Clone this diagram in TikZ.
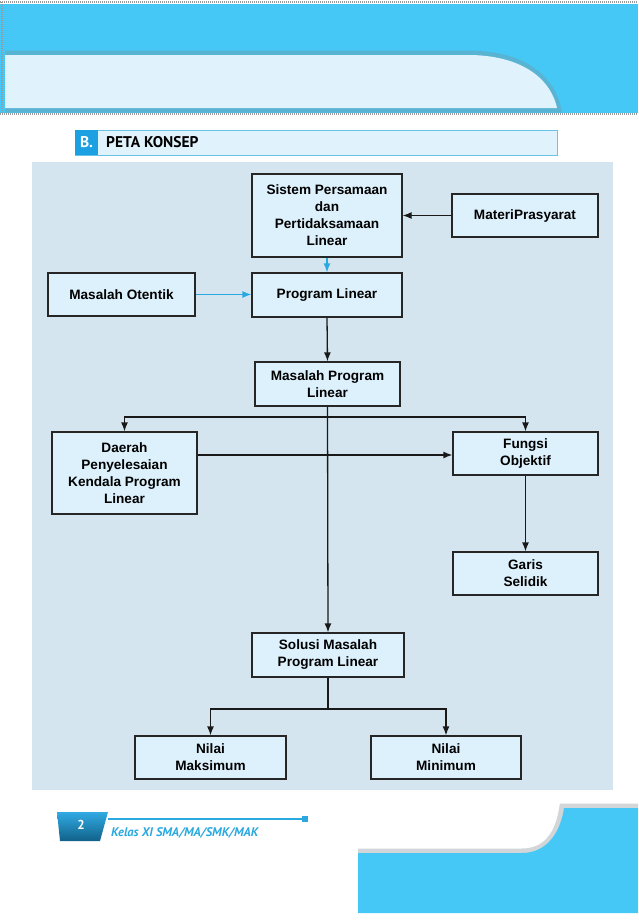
\documentclass[tikz,border=0pt]{standalone}
\usepackage{fontspec}
\setmainfont{Liberation Sans}
\newfontfamily\headfont{PT Sans}
\usetikzlibrary{arrows.meta,calc}
\definecolor{hblue}{HTML}{45C8F5}
\definecolor{hlight}{HTML}{E0F3FC}
\definecolor{panel}{HTML}{D4E5EF}
\definecolor{nodefill}{HTML}{DDF1FC}
\definecolor{cyanline}{HTML}{29A9E0}
\definecolor{bsq}{HTML}{1BA1E2}
\definecolor{shadow}{HTML}{7F8C93}
\tikzset{
  cbox/.style={draw=black!85, line width=1.3pt, fill=nodefill, align=center,
    font=\fontsize{13.6}{17}\selectfont\bfseries, inner sep=2pt},
  arr/.style={line width=1.3pt, draw=black!90, -{Latex[length=9pt,width=7pt]}},
  carr/.style={line width=1.3pt, draw=cyanline, -{Latex[length=9pt,width=7pt]}},
  plain/.style={line width=1.3pt, draw=black!90}
}
\begin{document}
\begin{tikzpicture}[x=1pt,y=-1pt]
\useasboundingbox (0,0) rectangle (638,922);
\fill[white] (0,0) rectangle (638,922);
% header
\fill[hblue] (0,4) rectangle (638,113);
\draw[gray!80, line width=2pt, dash pattern=on 1pt off 1pt] (0,2) -- (638,2);
\draw[gray!80, line width=2pt, dash pattern=on 1pt off 1pt] (2,2) -- (2,113);
\draw[gray!80, line width=2pt, dash pattern=on 1pt off 1pt] (0,114) -- (638,114);
\draw[shadow, line width=5pt, opacity=0.35] (5,53) -- (468,53) .. controls (520,53) and (552,75) .. (559,110) -- (5,110);
\fill[hlight] (5,55) -- (468,55) .. controls (518,55) and (550,76) .. (557,108) -- (5,108) -- cycle;
% heading bar
\fill[hlight] (75,130) rectangle (557,155);
\draw[cyanline!70, line width=1pt] (75,130) rectangle (557,155);
\fill[bsq] (75,130) rectangle (98,155);
\node[text=white, font=\headfont\fontsize{15.5}{17}\selectfont\bfseries] (bl) at (86.5,142.5) {B.};
\node[anchor=west, font=\headfont\fontsize{15.5}{17}\selectfont\bfseries, inner sep=0pt] (tl) at (106,142.5) {PETA KONSEP};
% panel
\fill[panel] (32,162) rectangle (613,790);
% nodes
\node[cbox, minimum width=150pt, minimum height=83pt] (sis) at (327,215.5) {Sistem Persamaan\\dan\\Pertidaksamaan\\Linear};
\node[cbox, minimum width=146pt, minimum height=43pt] (mat) at (525,215.5) {MateriPrasyarat};
\node[cbox, minimum width=150pt, minimum height=44pt] (pl) at (327,295) {Program Linear};
\node[cbox, minimum width=147pt, minimum height=43pt] (mo) at (121.5,294.5) {Masalah Otentik};
\node[cbox, minimum width=145pt, minimum height=44pt] (mpl) at (327.5,384) {Masalah Program\\Linear};
\node[cbox, minimum width=145pt, minimum height=82pt] (dae) at (124.5,473) {Daerah\\Penyelesaian\\Kendala Program\\Linear};
\node[cbox, minimum width=145pt, minimum height=43pt] (fun) at (525.5,453.5) {Fungsi\\Objektif};
\node[cbox, minimum width=145pt, minimum height=43pt] (gar) at (525.5,573.5) {Garis\\Selidik};
\node[cbox, minimum width=152pt, minimum height=44pt] (sol) at (328,655) {Solusi Masalah\\Program Linear};
\node[cbox, minimum width=151pt, minimum height=43pt] (max) at (210.5,757.5) {Nilai\\Maksimum};
\node[cbox, minimum width=150pt, minimum height=43pt] (min) at (446,757.5) {Nilai\\Minimum};
% connectors
\draw[arr] (mat.west) -- (sis.east);
\draw[carr] (sis.south) -- (pl.north);
\draw[carr] (mo.east) -- (pl.west |- mo.east);
\draw[arr] (pl.south) -- (mpl.north);
\draw[arr] (mpl.south) -- (sol.north);
\coordinate (j1) at (327.5,417);
\draw[arr] (j1) -| (dae.north);
\draw[arr] (j1) -| (fun.north);
\draw[arr] (dae.east |- 0,455) -- (fun.west |- 0,455);
\draw[arr] (fun.south) -- (gar.north);
\coordinate (j2) at (328,709);
\draw[plain] (sol.south) -- (j2);
\draw[arr] (j2) -| (max.north);
\draw[arr] (j2) -| (min.north);
% footer
\shade[top color=bsq!90, bottom color=bsq!60!black] (57,812) -- (108,812) -- (100,841) -- (60,841) -- cycle;
\node[text=white, font=\headfont\fontsize{13}{15}\selectfont\bfseries] (pg) at (81,825) {2};
\draw[cyanline, line width=1.2pt] (108,819) -- (305,819);
\fill[cyanline] (302,816) rectangle (308,822);
\node[anchor=base west, inner sep=0pt, text=cyanline, font=\headfont\fontsize{12.5}{14}\selectfont\bfseries\itshape] (ft) at (111,836) {Kelas XI SMA/MA/SMK/MAK};
\draw[shadow, line width=5pt, opacity=0.35] (358,851) -- (522,851) .. controls (545,851) and (558,835) .. (562,806) -- (638,806);
\fill[hblue] (358,853) -- (522,853) .. controls (545,853) and (560,835) .. (564,808) -- (638,808) -- (638,913) -- (358,913) -- cycle;
\end{tikzpicture}
\end{document}
